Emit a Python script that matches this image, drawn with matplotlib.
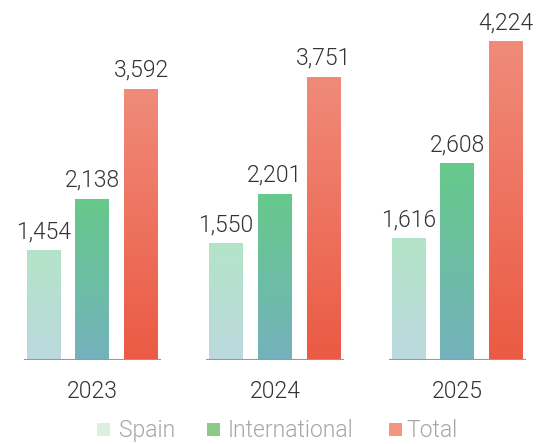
import numpy as np
import matplotlib
matplotlib.use("Agg")
import matplotlib.pyplot as plt
from matplotlib.colors import LinearSegmentedColormap
from matplotlib.patches import Rectangle

years = ["2023", "2024", "2025"]
series = ["Spain", "International", "Total"]
spain = [1454, 1550, 1616]
international = [2138, 2201, 2608]
total = [3592, 3751, 4224]

# gradient colours (top, bottom) and legend swatches
grad = [("#b3e4c7", "#bcd9df"), ("#66c98a", "#74b2bd"), ("#f08b7a", "#eb5a43")]
swatch = ["#dcefdc", "#8ec98a", "#f4967f"]

plt.rcParams['font.family'] = ['Roboto', 'DejaVu Sans']
FW = 300

W, H = 537, 444
fig = plt.figure(figsize=(W / 100, H / 100), dpi=100)
ax = fig.add_axes([0, 84 / H, 1, 360 / H])

x = np.arange(len(years))
offsets = [-0.2655, 0, 0.2685]
width = 0.184

for i, vals in enumerate([spain, international, total]):
    cmap = LinearSegmentedColormap.from_list("g%d" % i, [grad[i][1], grad[i][0]])
    bars = ax.bar(x + offsets[i], vals, width, color="none", edgecolor="none")
    for b, v in zip(bars, vals):
        x0 = b.get_x()
        img = ax.imshow(np.linspace(0, 1, 256).reshape(-1, 1), cmap=cmap,
                        extent=[x0, x0 + width, 0, v], origin="lower",
                        aspect="auto", zorder=2)
        img.set_clip_path(b)
        ax.text(x0 + width / 2, v + 90, f"{v:,}", ha="center", va="bottom",
                fontsize=16.5, color="#333333", fontweight=FW)

# baseline under each group
for xi in x:
    ax.hlines(0, xi - 0.373, xi + 0.378, color="#999999", lw=1.5, zorder=3)
    ax.text(xi + 0.002, -420, years[xi], ha="center", va="center",
            fontsize=16.5, color="#333333", fontweight=FW)

ax.set_xlim(-0.504, 2.438)
ax.set_ylim(0, 4767)
ax.axis("off")

# legend drawn by hand to match the spacing of the original
leg_x = [97, 207, 389]
txt_x = [119, 228, 406]
for lx, tx, c, name in zip(leg_x, txt_x, swatch, series):
    fig.add_artist(Rectangle((lx / W, (H - 436) / H), 13 / W, 13 / H,
                             transform=fig.transFigure, facecolor=c, edgecolor="none"))
    fig.text(tx / W, (H - 430) / H, name, ha="left", va="center",
             fontsize=16.5, color="#a6a6a6", fontweight=FW)

fig.savefig("out.png", dpi=100)
